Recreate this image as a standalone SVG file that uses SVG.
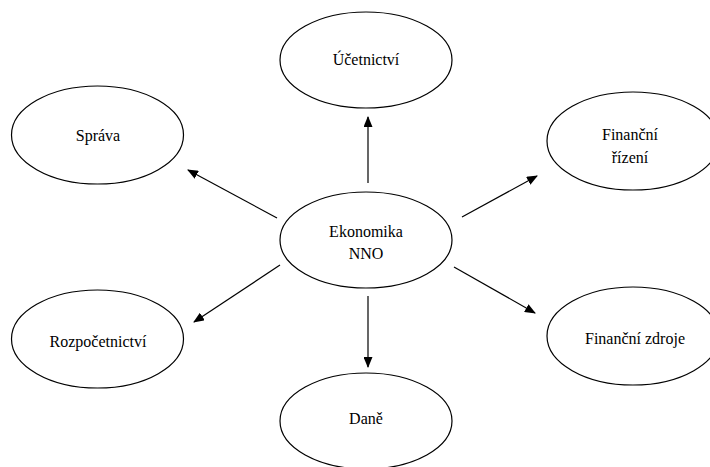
<svg xmlns="http://www.w3.org/2000/svg" width="710" height="467" viewBox="0 0 710 467">
<style>
.node ellipse{fill:#fff;stroke:#000;stroke-width:1.2}
.node text{font-family:'Liberation Serif','DejaVu Serif','Times New Roman',Times,serif;font-size:16px;fill:#000;text-anchor:middle}
.edges line{stroke:#000;stroke-width:1.2;marker-end:url(#arr)}
</style>
<defs>
<marker id="arr" markerUnits="userSpaceOnUse" markerWidth="11" markerHeight="9" refX="10" refY="4.5" orient="auto">
<path d="M0,0 L11,4.5 L0,9 z" fill="#000"/>
</marker>
</defs>
<rect width="710" height="467" fill="#fff"/>
<g class="edges">
<line x1="368" y1="183" x2="368" y2="117"/>
<line x1="277" y1="218" x2="188" y2="170"/>
<line x1="462" y1="217" x2="537" y2="176"/>
<line x1="280" y1="265" x2="194" y2="322"/>
<line x1="454" y1="267" x2="535" y2="313"/>
<line x1="368" y1="296" x2="368" y2="367"/>
</g>
<g id="ekonomika" class="node"><ellipse cx="366" cy="240" rx="86" ry="48"/><text x="366" y="237" font-family="Liberation Serif, DejaVu Serif, serif">Ekonomika</text><text x="366" y="259" font-family="Liberation Serif, DejaVu Serif, serif">NNO</text></g>
<g id="ucetnictvi" class="node"><ellipse cx="366" cy="60" rx="86" ry="48"/><text x="366" y="65" font-family="Liberation Serif, DejaVu Serif, serif">Účetnictví</text></g>
<g id="sprava" class="node"><ellipse cx="97.5" cy="135" rx="86" ry="49"/><text x="98" y="141" font-family="Liberation Serif, DejaVu Serif, serif">Správa</text></g>
<g id="financni-rizeni" class="node"><ellipse cx="633" cy="141" rx="86" ry="49"/><text x="630" y="140" font-family="Liberation Serif, DejaVu Serif, serif">Finanční</text><text x="630" y="163" font-family="Liberation Serif, DejaVu Serif, serif">řízení</text></g>
<g id="rozpocetnictvi" class="node"><ellipse cx="97.5" cy="339" rx="86" ry="49"/><text x="98" y="347" font-family="Liberation Serif, DejaVu Serif, serif">Rozpočetnictví</text></g>
<g id="financni-zdroje" class="node"><ellipse cx="633" cy="336" rx="86" ry="49"/><text x="635" y="344" font-family="Liberation Serif, DejaVu Serif, serif">Finanční zdroje</text></g>
<g id="dane" class="node"><ellipse cx="366" cy="421" rx="86" ry="48"/><text x="366" y="424" font-family="Liberation Serif, DejaVu Serif, serif">Daně</text></g>
</svg>
